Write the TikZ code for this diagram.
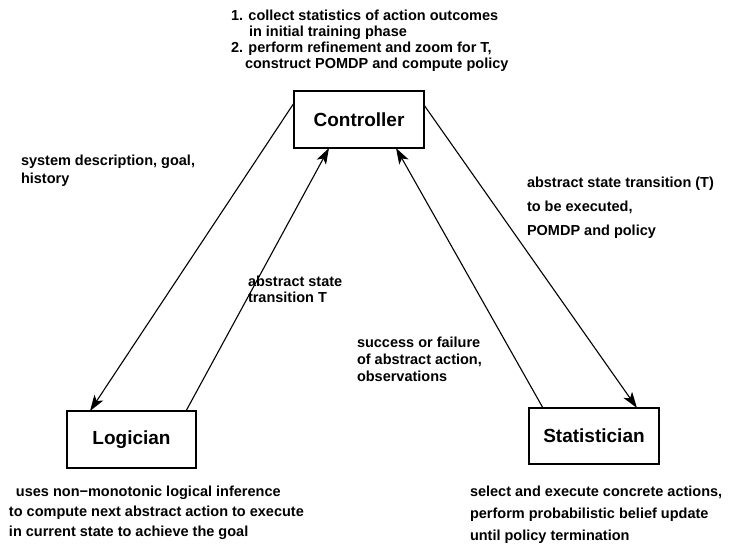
\documentclass[tikz,border=0pt]{standalone}
\usepackage{fontspec}
\setmainfont{Liberation Sans}
\usetikzlibrary{arrows.meta}
\tikzset{
  agent/.style={draw, line width=1.3pt, inner sep=0pt, outer sep=0pt, font=\bfseries\fontsize{19}{22}\selectfont},
  lbl/.style={anchor=north west, inner sep=0pt, outer sep=0pt, align=left},
  conn/.style={line width=1.1pt, -{Stealth[length=16pt,width=10.5pt,inset=4pt]}, shorten >=0pt}
}
\newcommand{\lblfont}[1]{\bfseries\fontsize{14.5}{#1}\selectfont}
\begin{document}
\begin{tikzpicture}[x=1pt,y=-1pt]
\useasboundingbox (0,0) rectangle (733,550);
\node[agent, minimum width=130pt, minimum height=57pt] (ctrl) at (359,119.5) {Controller};
\node[agent, minimum width=129pt, minimum height=57pt] (logi) at (131.5,439.5) {Logician};
\node[agent, minimum width=130pt, minimum height=56pt] (stat) at (594,436) {Statistician};

\draw[conn] ([yshift=-12pt]ctrl.north west) -- ([xshift=23pt]logi.north west);
\draw[conn] ([xshift=119pt]logi.north west) -- ([xshift=35pt]ctrl.south west);
\draw[conn] ([xshift=14pt]stat.north west) -- ([xshift=102pt]ctrl.south west);
\draw[conn] ([yshift=-14pt]ctrl.north east) -- ([xshift=108pt]stat.north west);

\node[lbl, font=\lblfont{16}] (top) at (231,9.5) {1. collect statistics of action outcomes\\
\hspace*{18pt}in initial training phase\\
2. perform refinement and zoom for T,\\
\hspace*{14pt}construct POMDP and compute policy};
\node[lbl, font=\lblfont{18}] (sys) at (21,154.5) {system description, goal,\\history};
\node[lbl, font=\lblfont{16}] (absT) at (248,275.5) {abstract state\\transition T};
\node[lbl, font=\lblfont{24}] (absx) at (527,176.5) {abstract state transition (T)\\to be executed,\\POMDP and policy};
\node[lbl, font=\lblfont{17}] (succ) at (357,336.5) {success or failure\\of abstract action,\\observations};
\node[lbl, font=\lblfont{20}] (uses) at (9,485.5) {\hspace*{7pt}uses non−monotonic logical inference\\to compute next abstract action to execute\\in current state to achieve the goal};
\node[lbl, font=\lblfont{22}] (sel) at (470,485.5) {select and execute concrete actions,\\perform probabilistic belief update\\until policy termination};
\end{tikzpicture}
\end{document}
